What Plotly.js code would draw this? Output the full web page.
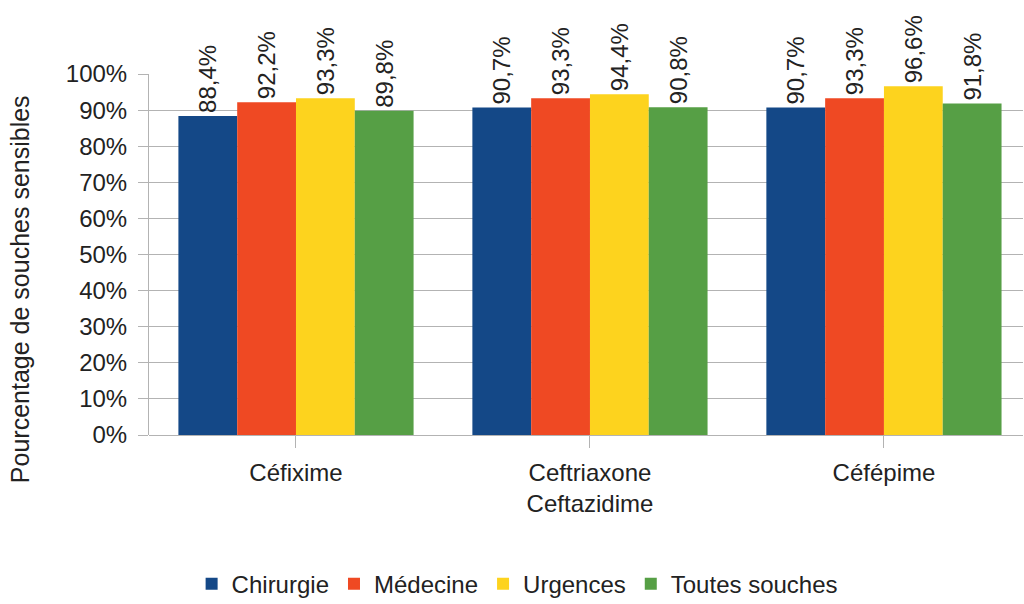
<!DOCTYPE html>
<html><head><meta charset="utf-8">
<script src="https://cdn.plot.ly/plotly-3.0.1.min.js"></script>
<style>body{margin:0;background:#fff}#c{width:1024px;height:604px}</style>
</head><body><div id="c"></div>
<script>
const categories = ["Céfixime", "Ceftriaxone<br>Ceftazidime", "Céfépime"];
const seriesNames = ["Chirurgie", "Médecine", "Urgences", "Toutes souches"];
const chirurgie = [88.4, 90.7, 90.7];
const medecine = [92.2, 93.3, 93.3];
const urgences = [93.3, 94.4, 96.6];
const toutes = [89.8, 90.8, 91.8];
const yTicks = [0, 10, 20, 30, 40, 50, 60, 70, 80, 90, 100];
const yTitle = "Pourcentage de souches sensibles";
const colors = ["#144887", "#ef4923", "#fdd31e", "#569f45"];
const values = [chirurgie, medecine, urgences, toutes];
const font = "Liberation Sans, Arial, sans-serif";
const traces = values.map((v, i) => ({
  type: "bar", name: seriesNames[i], x: [0, 1, 2], y: v,
  marker: {color: colors[i]},
  text: v.map(x => x.toFixed(1).replace(".", ",") + "%"),
  textposition: "outside", textangle: -90, cliponaxis: false, constraintext: "none",
  textfont: {size: 24, color: "#222", family: font},
  hoverinfo: "none"
}));
const layout = {
  width: 1024, height: 604,
  margin: {l: 149, r: 1, t: 74, b: 169},
  barmode: "group", bargap: 0.2, bargroupgap: 0,
  font: {family: font, color: "#222", size: 24},
  showlegend: true,
  legend: {orientation: "h", xref: "container", yref: "container", x: 0.505, xanchor: "center", y: 0.033, yanchor: "middle", font: {size: 24}, itemwidth: 20, tracegroupgap: 0},
  xaxis: {
    range: [-0.5, 2.473], tickvals: [0, 1, 2], ticktext: categories,
    tickson: "boundaries", ticks: "outside", ticklen: 12, tickcolor: "#b3b3b3",
    showgrid: false, showline: false, zeroline: false,
    tickfont: {size: 24}, ticklabelstandoff: 4
  },
  yaxis: {
    range: [0, 100], tickvals: yTicks, ticktext: yTicks.map(v => v + "%"),
    ticks: "outside", ticklen: 10, tickcolor: "#b3b3b3",
    gridcolor: "#b3b3b3", gridwidth: 1, showline: true, linecolor: "#b3b3b3",
    zeroline: true, zerolinecolor: "#b3b3b3",
    tickfont: {size: 24}, ticklabelstandoff: 6
  },
  annotations: [{
    text: yTitle, xref: "paper", yref: "paper", x: -0.1476, y: 0.404,
    xanchor: "center", yanchor: "middle", textangle: -90, showarrow: false,
    font: {size: 25, color: "#222", family: font}
  }],
  paper_bgcolor: "#fff", plot_bgcolor: "#fff"
};
Plotly.newPlot("c", traces, layout, {displayModeBar: false, staticPlot: true});
</script></body></html>
